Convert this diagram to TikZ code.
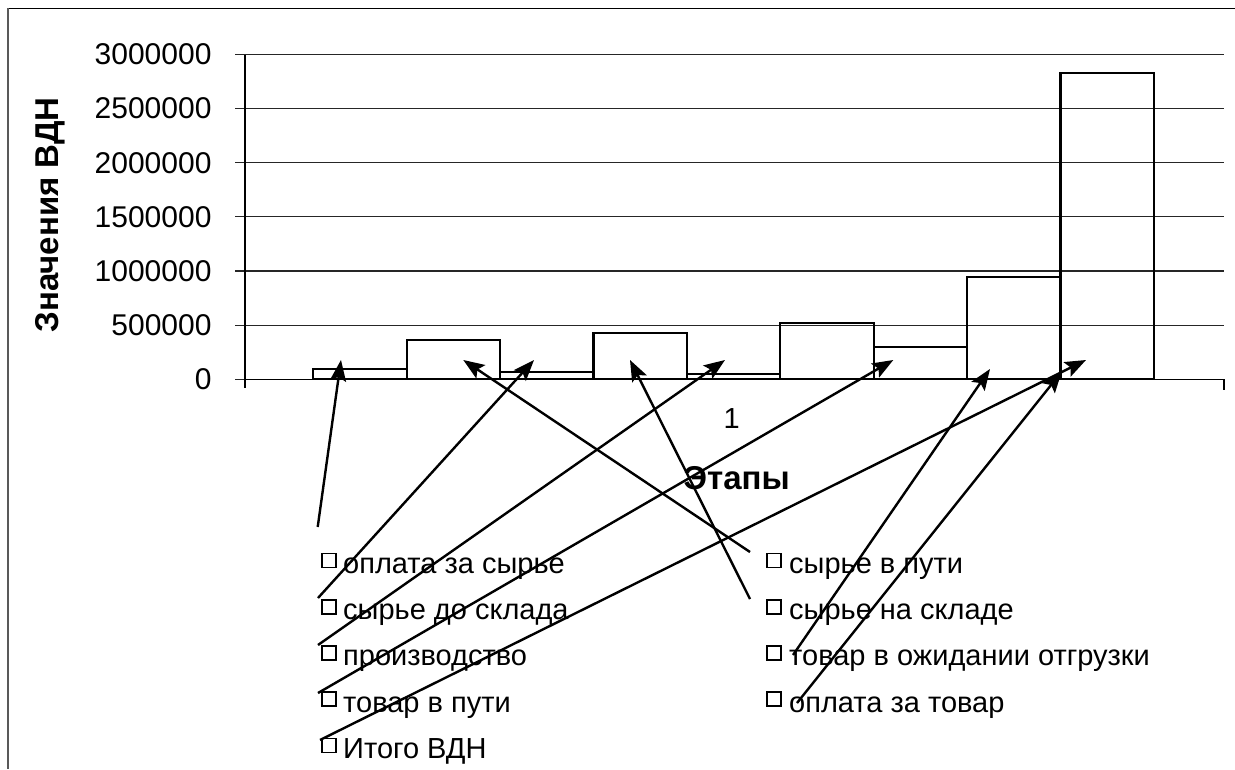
\documentclass[tikz,border=0pt]{standalone}
\usepackage{fontspec}
\setmainfont{Liberation Sans}
\usetikzlibrary{arrows.meta}

\tikzset{
  grid/.style={draw=black!85,line width=1.1pt},
  bar/.style={draw=black,line width=2.2pt},
  ticklabel/.style={anchor=east,inner sep=0pt,font=\fontsize{30}{36}\selectfont},
  legtext/.style={anchor=base west,inner sep=0pt,font=\fontsize{29}{34}\selectfont},
  legbox/.style={draw,line width=1.8pt,minimum size=14pt,inner sep=0pt},
  axtitle/.style={inner sep=0pt,font=\bfseries\fontsize{33}{38}\selectfont}
}

\begin{document}
\begin{tikzpicture}[x=1pt,y=-1pt]
\useasboundingbox (0,0) rectangle (1235,769);
\draw[line width=1.3pt] (7.7,8.3) -- (1235,8.3);
\draw[line width=2pt,black!65] (7.7,8.3) -- (7.7,769);

% grid and value axis
\foreach \v/\lab in {0/0,1/500000,2/1000000,3/1500000,4/2000000,5/2500000,6/3000000} {
    \draw[grid] (235,{379.3-\v*54.13}) -- (1224,{379.3-\v*54.13});
    \node[ticklabel] (tick\v) at (211.7,{379.3-\v*54.13}) {\lab};
}
\draw[line width=1.3pt] (245,54.5) -- (245,388);
\draw[line width=1.6pt] (245,379.3) -- (1224,379.3) -- (1224,390);

\foreach \i/\v in {0/0.095,1/0.363,2/0.065,3/0.425,4/0.049,5/0.517,6/0.301,7/0.942,8/2.831}
    \draw[bar] ({313.3+\i*93.4},379.3) rectangle ({313.3+(\i+1)*93.4},{379.3-\v*108.27});

\node[inner sep=0pt,font=\fontsize{29}{34}\selectfont] (Cat) at (731.7,418.3) {1};
\node[axtitle] (Etapy) at (736.7,478) {Этапы};
\node[axtitle,rotate=90,anchor=base] (Znach) at (58.3,215) {Значения ВДН};

% legend
\begin{scope}[every node/.style={legtext}]
    \node (Oplata) at (343,573.3) {оплата за сырье};
    \node (DoSklada) at (343,619.5) {сырье до склада};
    \node (Proizv) at (343,665.8) {производство};
    \node (TovarPuti) at (343,712) {товар в пути};
    \node (Itogo) at (343,758.3) {Итого ВДН};
    \node (VPuti) at (789,573.3) {сырье в пути};
    \node (NaSklade) at (789,619.5) {сырье на складе};
    \node (Ozhid) at (789,665.8) {товар в ожидании отгрузки};
    \node (OplTovar) at (789,712) {оплата за товар};
\end{scope}
\foreach \n/\x/\y in {1/329.3/560.5,2/329.3/606.8,3/329.3/653,4/329.3/699.3,5/329.3/745.5,
                      6/774.3/560.5,7/774.3/606.8,8/774.3/653,9/774.3/699.3}
    \node[legbox] (box\n) at (\x,\y) {};

\coordinate (tOplata) at (317.7,527);   \coordinate (hOplata) at (341,360);
\coordinate (tVPuti) at (750,552);      \coordinate (hVPuti) at (463.3,360);
\coordinate (tDoSklada) at (318,598);   \coordinate (hDoSklada) at (534,360);
\coordinate (tNaSklade) at (750,599);   \coordinate (hNaSklade) at (630,360);
\coordinate (tProizv) at (318,645);     \coordinate (hProizv) at (725,360);
\coordinate (tTovarPuti) at (318,693);  \coordinate (hTovarPuti) at (893.3,360);
\coordinate (tOzhid) at (793,655);      \coordinate (hOzhid) at (990,369);
\coordinate (tOplTovar) at (797,703);   \coordinate (hOplTovar) at (1061.7,371.7);
\coordinate (tItogo) at (320,740);      \coordinate (hItogo) at (1086,360);

\begin{scope}[>={Stealth[length=21pt,width=16pt,inset=4pt]},
              every edge/.style={draw,line width=2.4pt}]
    \path [->] (tOplata) edge (hOplata);
    \path [->] (tVPuti) edge (hVPuti);
    \path [->] (tDoSklada) edge (hDoSklada);
    \path [->] (tNaSklade) edge (hNaSklade);
    \path [->] (tProizv) edge (hProizv);
    \path [->] (tTovarPuti) edge (hTovarPuti);
    \path [->] (tOzhid) edge (hOzhid);
    \path [->] (tOplTovar) edge (hOplTovar);
    \path [->] (tItogo) edge (hItogo);
\end{scope}
\end{tikzpicture}
\end{document}
